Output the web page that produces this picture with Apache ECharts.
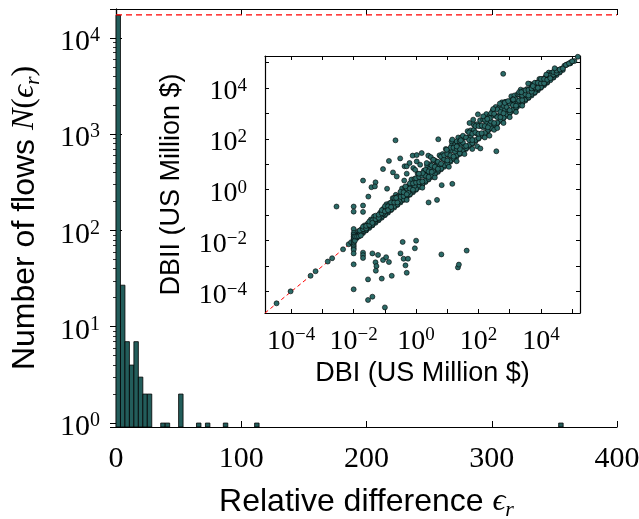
<!DOCTYPE html>
<html><head><meta charset="utf-8">
<script src="https://cdn.jsdelivr.net/npm/echarts@6/dist/echarts.min.js"></script>
<style>html,body{margin:0;padding:0;background:#fff}#c{width:639px;height:519px}</style>
</head><body><div id="c"></div>
<script>
// ---------- Main histogram data (bins of relative difference) ----------
const binStart = [0, 3.57, 7.14, 10.71, 14.28, 17.85, 21.42, 24.99, 35.7, 39.27, 49.98, 64.26, 71.4, 85.68, 110.67, 353.43];
const binEnd   = [3.57, 7.14, 10.71, 14.28, 17.85, 21.42, 24.99, 28.56, 39.27, 42.84, 53.55, 67.83, 74.97, 89.25, 114.24, 357.0];
const binCount = [17200, 27, 7, 4, 7, 3, 2, 2, 1, 1, 2, 1, 1, 1, 1, 1];
const totalFlows = 17300;
const xRange = [0, 400];
const yRange = [0.91, 19900];

// ---------- Inset: axis range and tick positions ----------
const insetRange = [1.445e-5, 1.78e5];
const insetTicks = [1e-4, 1e-3, 1e-2, 1e-1, 1, 10, 100, 1e3, 1e4, 1e5];
const insetLabels = [1e-4, 1e-2, 1, 100, 1e4];

// ---------- Inset scatter data: log10 of (DBI, DBII) ----------
const onDiagonal = [[-4.47,-4.46],[-4.02,-3.99],[-3.38,-3.38],[-3.22,-3.2],[-2.83,-2.82],[-2.69,-2.69],[-2.34,-2.34],[-2.16,-2.14],[-2.08,-2.06],
[-1.9,-1.9],[-1.8,-1.8],[-1.7,-1.7],[-1.6,-1.6],[-1.5,-1.5],[-1.4,-1.4],[-1.3,-1.3],[-1.2,-1.2],[-1.1,-1.1],[-1.0,-1.0],
[-0.9,-0.9],[-0.8,-0.8],[-0.7,-0.7],[-0.6,-0.6],[-0.5,-0.5],[-0.4,-0.4],[-0.3,-0.3],[-0.2,-0.2],[-0.1,-0.1],[0,0],
[0.1,0.1],[0.2,0.2],[0.3,0.3],[0.4,0.4],[0.5,0.5],[0.6,0.6],[0.7,0.7],[0.8,0.8],[0.9,0.9],[1.0,1.0],
[1.1,1.1],[1.2,1.2],[1.3,1.3],[1.4,1.4],[1.5,1.5],[1.6,1.6],[1.7,1.7],[1.8,1.8],[1.9,1.9],[2.0,2.0],
[2.1,2.1],[2.2,2.2],[2.3,2.3],[2.4,2.4],[2.5,2.5],[2.6,2.6],[2.7,2.7],[2.8,2.8],[2.9,2.9],[3.0,3.0],
[3.1,3.1],[3.2,3.2],[3.3,3.3],[3.4,3.4],[3.5,3.5],[3.6,3.6],[3.7,3.7],[3.8,3.8],[3.9,3.9],[4.0,4.0],
[4.1,4.1],[4.2,4.2],[4.3,4.3],[4.4,4.4],[4.5,4.5],[4.6,4.6],[4.7,4.7],[4.81,4.9],[4.94,4.96],[5.07,5.05],[5.18,5.22]];

const nearDiagonal = [[-1.9,-1.85],[-1.7,-1.65],[-1.5,-1.45],[-1.3,-1.25],[-1.1,-1.05],[-0.9,-0.85],[-0.7,-0.64],[-0.5,-0.45],
[-0.3,-0.24],[-0.1,-0.05],[0.1,0.16],[0.3,0.35],[0.5,0.56],[0.7,0.75],[0.9,0.96],[1.1,1.15],[1.3,1.36],[1.5,1.55],
[1.7,1.76],[1.9,1.95],[2.1,2.16],[2.3,2.35],[2.5,2.56],[2.7,2.75],[2.9,2.96],[3.1,3.15],[3.3,3.36],[3.5,3.55],
[3.7,3.76],[3.9,3.95],[4.1,4.15],
[-1.8,-1.77],[-1.6,-1.57],[-1.4,-1.37],[-1.2,-1.17],[-1.0,-0.97],[-0.8,-0.77],[-0.6,-0.57],[-0.4,-0.37],[-0.2,-0.17],
[0,0.03],[0.2,0.23],[0.4,0.43],[0.6,0.63],[0.8,0.83],[1.0,1.03],[1.2,1.23],[1.4,1.43],[1.6,1.63],[1.8,1.83],[2.0,2.03],
[2.2,2.23],[2.4,2.43],[2.6,2.63],[2.8,2.83],[3.0,3.03],[3.2,3.23],[3.4,3.43],[3.6,3.63],[3.8,3.83],[4.0,4.03],
[4.2,4.23],[4.4,4.43],[4.6,4.63]];

const bandAbove = [[-1.85,-1.73],[-1.85,-1.63],[-1.75,-1.67],[-1.75,-1.55],[-1.65,-1.5],[-1.65,-1.4],[-1.55,-1.45],[-1.55,-1.33],
[-1.45,-1.27],[-1.45,-1.17],[-1.35,-1.23],[-1.35,-1.05],[-1.25,-1.05],[-1.25,-1.15],[-1.15,-0.9],[-1.15,-1.0],
[-1.05,-0.75],[-1.05,-0.93],[-0.95,-0.75],[-0.95,-0.57],[-0.85,-0.7],[-0.85,-0.53],[-0.75,-0.5],[-0.75,-0.33],
[-0.65,-0.47],[-0.65,-0.2],[-0.55,-0.25],[-0.55,-0.43],[-0.45,-0.1],[-0.45,0.05],[-0.35,-0.13],[-0.35,0.1],
[-0.25,0.15],[-0.25,-0.1],[-0.15,0.15],[-0.15,0.4],[-0.05,0.15],[-0.05,0.43],[0.05,0.4],[0.05,0.63],
[0.15,0.3],[0.15,0.6],[0.25,0.75],[0.25,0.55],[0.35,0.6],[0.35,0.95],[0.45,0.85],[0.45,1.0],
[0.55,0.73],[0.55,1.17],[0.65,1.1],[0.65,0.95],[0.75,1.35],[0.75,1.0],[0.85,1.23],[0.85,1.4],
[0.95,1.15],[0.95,1.6],[1.05,1.55],[1.05,1.35],[1.15,1.77],[1.15,1.55],[1.25,1.5],[1.25,1.8],
[1.35,1.8],[1.35,2.05],[1.45,1.8],[1.45,2.05],[1.55,1.7],[1.55,2.05],[1.65,2.3],[1.65,2.05],
[1.75,2.05],[1.75,2.33],[1.85,2.35],[1.85,2.55],[1.95,2.2],[1.95,2.57],[2.05,2.5],[2.05,2.73],
[2.15,2.75],[2.15,2.45],[2.25,2.65],[2.25,2.97],[2.35,2.55],[2.35,2.9],[2.45,3.1],[2.45,2.9],
[2.55,2.9],[2.55,3.25],[2.65,3.2],[2.65,2.9],[2.75,3.17],[2.75,3.43],[2.85,3.45],[2.85,3.15],
[2.95,3.15],[2.95,3.45],[3.05,3.5],[3.05,3.67],[3.15,3.45],[3.15,3.7],[3.25,3.75],[3.25,3.45],
[3.35,3.7],[3.35,3.93],[3.45,3.7],[3.45,3.9],[3.55,3.95],[3.55,3.7],[3.65,3.95],[3.65,4.15],
[3.75,3.95],[3.75,4.13],[3.85,4.2],[3.85,3.97],[3.95,4.2],[3.95,4.35],[4.05,4.2],[4.05,4.35],
[4.15,4.43],[4.15,4.25],[4.25,4.45],[4.25,4.6],[4.35,4.47],[4.35,4.6],[4.45,4.65],[4.45,4.53],
[4.55,4.7],[4.65,4.75],[4.75,4.87],[4.85,4.93],[4.95,5.0]];

const bandInner = [[-1.8,-1.7],[-1.8,-1.6],[-1.7,-1.55],[-1.7,-1.45],[-1.6,-1.52],[-1.6,-1.42],[-1.5,-1.38],[-1.5,-1.25],
[-1.4,-1.2],[-1.4,-1.3],[-1.3,-1.15],[-1.3,-1.02],[-1.2,-1.1],[-1.2,-0.98],[-1.1,-0.92],[-1.1,-0.8],[-1.0,-0.85],[-1.0,-0.65],
[-0.9,-0.65],[-0.9,-0.8],[-0.8,-0.5],[-0.8,-0.68],[-0.7,-0.5],[-0.7,-0.32],[-0.6,-0.5],[-0.6,-0.28],[-0.5,-0.28],[-0.5,-0.08],
[-0.4,-0.25],[-0.4,-0.1],[-0.3,-0.18],[-0.3,0.05],[-0.2,0.05],[-0.2,0.25],[-0.1,0.0],[-0.1,0.25],[0.0,0.28],[0.0,0.45],
[0.1,0.3],[0.1,0.5],[0.2,0.32],[0.2,0.55],[0.3,0.55],[0.3,0.78],[0.4,0.5],[0.4,0.72],[0.5,0.7],[0.5,0.95],
[0.6,0.9],[0.6,1.15],[0.7,0.82],[0.7,1.1],[0.8,1.02],[0.8,1.3],[0.9,1.2],[0.9,1.35],[1.0,1.15],[1.0,1.4],
[1.1,1.35],[1.1,1.65],[1.2,1.3],[1.2,1.65],[1.3,1.6],[1.3,1.9],[1.4,1.6],[1.4,1.9],[1.5,1.85],[1.5,2.12],
[1.6,1.72],[1.6,2.05],[1.7,1.95],[1.7,2.25],[1.8,1.95],[1.8,2.2],[1.9,2.25],[1.9,2.5],[2.0,2.2],[2.0,2.5],
[2.1,2.22],[2.1,2.52],[2.2,2.5],[2.2,2.75],[2.3,2.45],[2.3,2.8],[2.4,2.68],[2.4,3.0],[2.5,2.62],[2.5,2.98],
[2.6,2.85],[2.6,3.15],[2.7,2.85],[2.7,3.05],[2.8,3.0],[2.8,3.3],[2.9,3.25],[2.9,3.45],[3.0,3.12],[3.0,3.38],
[3.1,3.32],[3.1,3.55],[3.2,3.3],[3.2,3.55],[3.3,3.5],[3.3,3.75],[3.4,3.52],[3.4,3.7],[3.5,3.75],[3.5,3.9],
[3.6,3.7],[3.6,3.92],[3.7,3.85],[3.7,3.98],[3.8,4.02],[3.8,4.2],[3.9,4.0],[3.9,4.2],[4.0,4.18],[4.0,4.35],
[4.1,4.18],[4.1,4.35],[4.2,4.32],[4.2,4.5],[4.3,4.48],[4.3,4.38],[4.4,4.52],[4.4,4.62],[4.5,4.58],[4.5,4.68],
[4.6,4.72],[4.7,4.76],[4.8,4.9],[4.9,4.96],[5.0,5.04]];

const bandBelow = [[1.05,0.9],[1.3,1.12],[1.55,1.4],[1.8,1.6],[1.96,1.7],[2.06,1.62],[2.2,2.05],[2.35,2.12],[2.5,2.35],
[2.6,2.42],[2.8,2.62],[3.0,2.85],[3.2,3.05],[3.4,3.3],[0.6,0.48],[0.2,0.08],[-0.3,-0.4]];

const clusterAtCent = [[-2,-1.54],[-2,-1.7],[-2,-1.77],[-2,-1.84],[-2,-1.9],[-2,-1.97],[-2,-2.03],[-2,-2.1],[-2,-2.17],
[-2,-2.23],[-2,-2.3],[-2,-2.36],[-2,-2.5],[-1.96,-2.0],[-1.95,-1.84],[-1.89,-1.84],[-1.83,-1.83],[-1.77,-1.8]];

const outliersAbove = [[-2.55,-0.66],[-2,-0.66],[-2,-0.86],[-1.7,-0.62],[-1.7,-0.87],[-1.7,0.36],[-1.53,-0.27],
[-1.43,0.1],[-1.3,0.29],[-1.32,0.13],[-1.06,0.81],[-0.87,1.13],[-0.74,0.68],[-0.66,1.94],[-0.62,0.52],[-0.51,1.23],
[-0.93,0.04],[-0.64,-0.32],[-0.38,0.36],[-0.34,0.13],[-0.37,0.92],[-0.3,0.92],[-0.11,1.34],[0.02,1.36],[0.18,1.44],
[0.02,1.11],[0.13,0.98],[-0.09,0.85],[-0.21,1.05],[0.39,1.34],[0.47,1.28],[0.55,1.18],[0.34,1.05],[0.21,0.65],
[0.09,0.63],[-0.03,0.78],[-0.3,0.63],[0.71,1.98],[0.98,1.57],[1.14,1.9],[1.3,1.7],[1.16,1.97],[1.43,1.94],
[1.71,2.62],[1.83,2.75],[1.98,2.96],[2.15,2.88],[2.36,2.81],[2.28,2.78],[2.47,3.17],[2.68,3.38],[2.84,3.41],
[2.95,3.48],[3.11,3.54],[2.79,4.55],[3.3,3.83],[3.37,3.83],[3.59,4.17],[3.74,4.07],[4.17,4.52],[4.44,4.77]];

const outliersBelow = [[-2,-2.93],[-2,-3.91],[-1.7,-2.47],[-1.7,-2.57],[-1.7,-2.68],[-1.54,-3.52],[-1.54,-4.33],
[-1.4,-4.2],[-1.4,-2.5],[-1.3,-2.85],[-1.27,-3.0],[-1.29,-3.18],[-1.22,-2.56],[-1.1,-3.49],[-1.06,-2.76],[-1.0,-4.62],
[-0.96,-2.65],[-0.87,-2.84],[-0.78,-3.38],[-0.5,-2.5],[-0.43,-2.05],[-0.4,-2.71],[-0.34,-2.97],[-0.3,-3.26],
[-0.26,-2.71],[-0.04,-2.3],[0.0,-2.0],[0.81,-2.54],[1.34,-3.05],[1.37,-2.94],[1.62,-2.39],[0.4,-0.5],[0.67,-0.4],
[0.82,0.18],[1.16,0.23],[2.57,1.51]];
// ---------------------------------------------------------------------

const SERIF = 'Liberation Serif';
const SANS = 'Liberation Sans';
const BAR = '#235d5b';
const DOT = '#2b6a67';

const toValue = p => [Math.pow(10, p[0]), Math.pow(10, p[1])];
const scatterData = [].concat(onDiagonal, nearDiagonal, bandAbove, bandInner, bandBelow, clusterAtCent, outliersAbove, outliersBelow).map(toValue);
const histData = binStart.map((s, i) => [s, binEnd[i], binCount[i]]);

function powLabel(v, step) {
  const e = Math.log10(v);
  const r = Math.round(e);
  if (Math.abs(e - r) > 1e-6 || r % step !== 0) return '';
  return '{b|10}{s|' + (r < 0 ? '\u2212' + (-r) : r) + '}';
}
function richFor(size, sup) {
  return {
    b: {fontFamily: SERIF, fontSize: size, lineHeight: size + 3, color: '#000'},
    s: {fontFamily: SERIF, fontSize: sup, lineHeight: sup, verticalAlign: 'top', color: '#000'}
  };
}
const axisLineStyle = {show: true, lineStyle: {color: '#000', width: 1.2}};
const titleRich = (size) => ({
  it: {fontFamily: SERIF, fontStyle: 'italic', fontSize: size, lineHeight: size + 6, color: '#000'},
  p: {fontFamily: SERIF, fontSize: size, lineHeight: size + 6, color: '#000'},
  sub: {fontFamily: SERIF, fontStyle: 'italic', fontSize: Math.round(size * 0.68), lineHeight: Math.round(size * 0.5), verticalAlign: 'bottom', color: '#000'}
});
const insetTick = {show: true, inside: true, length: 4, customValues: insetTicks, lineStyle: {color: '#000', width: 1}};

const chart = echarts.init(document.getElementById('c'), null, {renderer: 'canvas'});
chart.setOption({
  animation: false,
  backgroundColor: '#fff',
  grid: [
    {left: 116, right: 22, top: 9, bottom: 92, containLabel: false, outerBoundsMode: 'none'},
    {left: 265, right: 59, top: 56, bottom: 206, containLabel: false, outerBoundsMode: 'none', show: true, backgroundColor: '#fff', borderWidth: 0}
  ],
  xAxis: [
    {gridIndex: 0, type: 'value', min: xRange[0], max: xRange[1], interval: 100, position: 'bottom',
     axisLine: axisLineStyle, splitLine: {show: false},
     axisTick: {show: true, inside: true, length: 6, lineStyle: {color: '#000', width: 1}},
     axisLabel: {fontFamily: SERIF, fontSize: 30, color: '#000', margin: 17},
     name: 'Relative difference {it|\u03F5}{sub|r}', nameLocation: 'middle', nameGap: 56,
     nameTextStyle: {fontFamily: SANS, fontSize: 32, lineHeight: 38, color: '#000', rich: titleRich(32)}},
    {gridIndex: 0, type: 'value', min: xRange[0], max: xRange[1], interval: 100, position: 'top',
     axisLine: axisLineStyle, splitLine: {show: false}, axisLabel: {show: false},
     axisTick: {show: true, inside: true, length: 6, lineStyle: {color: '#000', width: 1}}},
    {gridIndex: 1, type: 'log', logBase: 10, min: insetRange[0], max: insetRange[1], position: 'bottom',
     axisLine: axisLineStyle, splitLine: {show: false}, axisTick: insetTick,
     axisLabel: {customValues: insetLabels, formatter: v => powLabel(v, 2), rich: richFor(28, 19), margin: 13},
     name: 'DBI (US Million $)', nameLocation: 'middle', nameGap: 47,
     nameTextStyle: {fontFamily: SANS, fontSize: 27, color: '#000'}},
    {gridIndex: 1, type: 'log', logBase: 10, min: insetRange[0], max: insetRange[1], position: 'top',
     axisLine: axisLineStyle, splitLine: {show: false}, axisLabel: {show: false}, axisTick: insetTick}
  ],
  yAxis: [
    {gridIndex: 0, type: 'log', logBase: 10, min: yRange[0], max: yRange[1], position: 'left',
     axisLine: axisLineStyle, splitLine: {show: false},
     axisTick: {show: true, inside: true, length: 6, lineStyle: {color: '#000', width: 1}},
     minorTick: {show: true, splitNumber: 9, length: 3, lineStyle: {color: '#000', width: 0.8}},
     axisLabel: {formatter: v => powLabel(v, 1), rich: richFor(30, 20), margin: 16, padding: [9, 0, 0, 0], showMinLabel: false, showMaxLabel: false},
     name: 'Number of flows {it|N}{p|(}{it|\u03F5}{sub|r}{p|)}', nameLocation: 'middle', nameGap: 72,
     nameTextStyle: {fontFamily: SANS, fontSize: 32, lineHeight: 38, color: '#000', rich: titleRich(32)}},
    {gridIndex: 0, type: 'log', logBase: 10, min: yRange[0], max: yRange[1], position: 'right',
     axisLine: axisLineStyle, splitLine: {show: false}, axisLabel: {show: false},
     axisTick: {show: true, inside: true, length: 6, lineStyle: {color: '#000', width: 1}},
     minorTick: {show: true, splitNumber: 9, length: 3, lineStyle: {color: '#000', width: 0.8}}},
    {gridIndex: 1, type: 'log', logBase: 10, min: insetRange[0], max: insetRange[1], position: 'left',
     axisLine: axisLineStyle, splitLine: {show: false}, axisTick: insetTick,
     axisLabel: {customValues: insetLabels, formatter: v => powLabel(v, 2), rich: richFor(28, 19), margin: 18, padding: [8, 0, 0, 0]},
     name: 'DBII (US Million $)', nameLocation: 'middle', nameGap: 80,
     nameTextStyle: {fontFamily: SANS, fontSize: 27, color: '#000'}},
    {gridIndex: 1, type: 'log', logBase: 10, min: insetRange[0], max: insetRange[1], position: 'right',
     axisLine: axisLineStyle, splitLine: {show: false}, axisLabel: {show: false}, axisTick: insetTick}
  ],
  series: [
    {type: 'custom', xAxisIndex: 0, yAxisIndex: 0, data: histData, z: 3,
     encode: {x: [0, 1], y: 2},
     renderItem: function (params, api) {
       const top = api.coord([api.value(0), api.value(2)]);
       const bot = api.coord([api.value(1), yRange[0]]);
       return {type: 'rect', shape: {x: top[0], y: top[1], width: bot[0] - top[0], height: bot[1] - top[1]},
               style: {fill: BAR, stroke: '#000', lineWidth: 0.8}};
     }},
    {type: 'line', xAxisIndex: 0, yAxisIndex: 0, data: [[xRange[0], totalFlows], [xRange[1], totalFlows]],
     symbol: 'none', lineStyle: {color: '#ff0000', width: 1.2, type: [6, 4]}, z: 4, silent: true},
    {type: 'line', xAxisIndex: 2, yAxisIndex: 2, data: [[insetRange[0], insetRange[0]], [insetRange[1], insetRange[1]]],
     symbol: 'none', lineStyle: {color: '#ff0000', width: 1, type: [4, 3]}, z: 2, silent: true},
    {type: 'scatter', xAxisIndex: 2, yAxisIndex: 2, data: scatterData, symbol: 'circle', symbolSize: 5, z: 5,
     itemStyle: {color: DOT, borderColor: '#000', borderWidth: 0.6, opacity: 1}}
  ]
});
</script></body></html>
